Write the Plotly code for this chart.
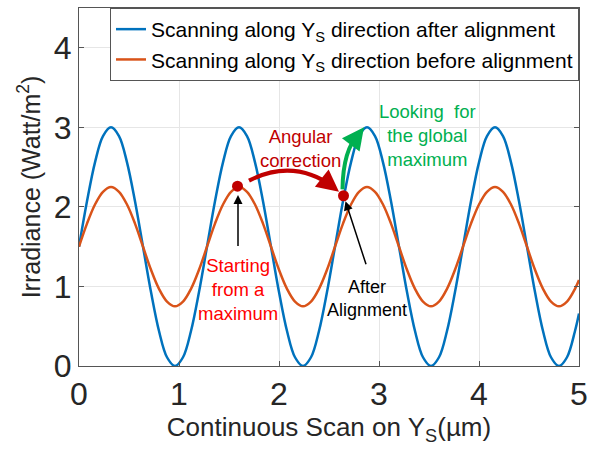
import plotly.graph_objects as go

# Sample positions along the scan (µm)
x_um = [0.0, 0.08, 0.16, 0.24, 0.32, 0.4, 0.48, 0.56, 0.64, 0.72, 0.8, 0.88, 0.96, 1.04, 1.12, 1.2,
        1.28, 1.36, 1.44, 1.52, 1.6, 1.68, 1.76, 1.84, 1.92, 2.0, 2.08, 2.16, 2.24, 2.32, 2.4, 2.48,
        2.56, 2.64, 2.72, 2.8, 2.88, 2.96, 3.04, 3.12, 3.2, 3.28, 3.36, 3.44, 3.52, 3.6, 3.68, 3.76,
        3.84, 3.92, 4.0, 4.08, 4.16, 4.24, 4.32, 4.4, 4.48, 4.56, 4.64, 4.72, 4.8, 4.88, 4.96, 5.0]

# Irradiance after alignment (blue)
irr_after = [1.5, 2.07, 2.56, 2.89, 3.0, 2.89, 2.56, 2.07, 1.5, 0.93, 0.44, 0.11, 0.0, 0.11, 0.44, 0.93,
             1.5, 2.07, 2.56, 2.89, 3.0, 2.89, 2.56, 2.07, 1.5, 0.93, 0.44, 0.11, 0.0, 0.11, 0.44, 0.93,
             1.5, 2.07, 2.56, 2.89, 3.0, 2.89, 2.56, 2.07, 1.5, 0.93, 0.44, 0.11, 0.0, 0.11, 0.44, 0.93,
             1.5, 2.07, 2.56, 2.89, 3.0, 2.89, 2.56, 2.07, 1.5, 0.93, 0.44, 0.11, 0.0, 0.11, 0.44, 0.66]

# Irradiance before alignment (orange)
irr_before = [1.5, 1.79, 2.03, 2.19, 2.25, 2.19, 2.03, 1.79, 1.5, 1.21, 0.97, 0.81, 0.75, 0.81, 0.97, 1.21,
              1.5, 1.79, 2.03, 2.19, 2.25, 2.19, 2.03, 1.79, 1.5, 1.21, 0.97, 0.81, 0.75, 0.81, 0.97, 1.21,
              1.5, 1.79, 2.03, 2.19, 2.25, 2.19, 2.03, 1.79, 1.5, 1.21, 0.97, 0.81, 0.75, 0.81, 0.97, 1.21,
              1.5, 1.79, 2.03, 2.19, 2.25, 2.19, 2.03, 1.79, 1.5, 1.21, 0.97, 0.81, 0.75, 0.81, 0.97, 1.08]

# Marked points: start (on max of orange), after alignment (on blue)
marker_x = [1.585, 2.645]
marker_y = [2.26, 2.14]

x_ticks = [0, 1, 2, 3, 4, 5]
y_ticks = [0, 1, 2, 3, 4]

FONT = "Arial, Liberation Sans, sans-serif"
BLUE = "#0072BD"
ORANGE = "#D95319"
DARKRED = "#C00000"
GREEN = "#00B050"

fig = go.Figure()
fig.add_trace(go.Scatter(x=x_um, y=irr_after, mode="lines", line=dict(color=BLUE, width=2.5, shape="spline"),
                         name="Scanning along Y<sub>S</sub> direction after alignment"))
fig.add_trace(go.Scatter(x=x_um, y=irr_before, mode="lines", line=dict(color=ORANGE, width=2.5, shape="spline"),
                         name="Scanning along Y<sub>S</sub> direction before alignment"))

# Curved arrows (paths)
fig.add_shape(type="path", xref="x", yref="y", path="M 1.70,2.33 Q 2.15,2.62 2.56,2.24",
              line=dict(color=DARKRED, width=4))
fig.add_shape(type="path", xref="x", yref="y", path="M 2.635,2.22 Q 2.64,2.72 2.80,2.92",
              line=dict(color=GREEN, width=4))

fig.add_trace(go.Scatter(x=marker_x, y=marker_y, mode="markers", showlegend=False,
                         marker=dict(color=DARKRED, size=11)))

# Arrow heads
fig.add_annotation(x=2.60, y=2.19, ax=2.52, ay=2.27, xref="x", yref="y", axref="x", ayref="y",
                   text="", showarrow=True, arrowhead=2, arrowsize=1.1, arrowwidth=4, arrowcolor=DARKRED)
fig.add_annotation(x=2.85, y=3.0, ax=2.79, ay=2.90, xref="x", yref="y", axref="x", ayref="y",
                   text="", showarrow=True, arrowhead=2, arrowsize=1.1, arrowwidth=4, arrowcolor=GREEN)
# Black straight arrows
fig.add_annotation(x=1.59, y=2.15, ax=1.59, ay=1.49, xref="x", yref="y", axref="x", ayref="y",
                   text="", showarrow=True, arrowhead=2, arrowsize=1.2, arrowwidth=1.5, arrowcolor="black")
fig.add_annotation(x=2.665, y=2.07, ax=2.875, ay=1.26, xref="x", yref="y", axref="x", ayref="y",
                   text="", showarrow=True, arrowhead=2, arrowsize=1.2, arrowwidth=1.5, arrowcolor="black")

# Texts
fig.add_annotation(x=2.21, y=2.73, text="Angular<br>correction", showarrow=False,
                   font=dict(family=FONT, size=18.5, color=DARKRED))
fig.add_annotation(x=3.485, y=2.90, text="Looking  for<br>the global<br>maximum", showarrow=False,
                   font=dict(family=FONT, size=18.5, color=GREEN))
fig.add_annotation(x=1.59, y=0.96, text="Starting<br>from a<br>maximum", showarrow=False,
                   font=dict(family=FONT, size=18.5, color="#FF0000"))
fig.add_annotation(x=2.875, y=0.85, text="After<br>Alignment", showarrow=False,
                   font=dict(family=FONT, size=18, color="black"))

axis_common = dict(showline=True, linecolor="#555555", linewidth=1, mirror="ticks", ticks="inside",
                   ticklen=5, tickcolor="#555555", showgrid=True, gridcolor="#e6e6e6", gridwidth=1,
                   zeroline=False, tickfont=dict(family=FONT, size=32, color="#262626"))

fig.update_xaxes(range=[0, 5], tickvals=x_ticks, ticktext=[str(v) for v in x_ticks],
                 title=dict(text="Continuous Scan on Y<sub>S</sub>(µm)", font=dict(family=FONT, size=26, color="#262626"),
                            standoff=4),
                 **axis_common)
fig.update_yaxes(range=[0, 4.5], tickvals=y_ticks, ticktext=[str(v) for v in y_ticks],
                 title=dict(text="Irradiance (Watt/m<sup>2</sup>)", font=dict(family=FONT, size=25, color="#262626"),
                            standoff=6),
                 **axis_common)

fig.update_layout(
    width=595, height=458,
    margin=dict(l=79, r=9, t=7, b=92),
    plot_bgcolor="white", paper_bgcolor="white",
    font=dict(family=FONT),
    legend=dict(x=1, y=1, xanchor="right", yanchor="top", bgcolor="white", bordercolor="#555555", borderwidth=1,
                font=dict(family=FONT, size=21, color="black"), tracegroupgap=0, itemwidth=30),
)

fig.write_html("out.html")
